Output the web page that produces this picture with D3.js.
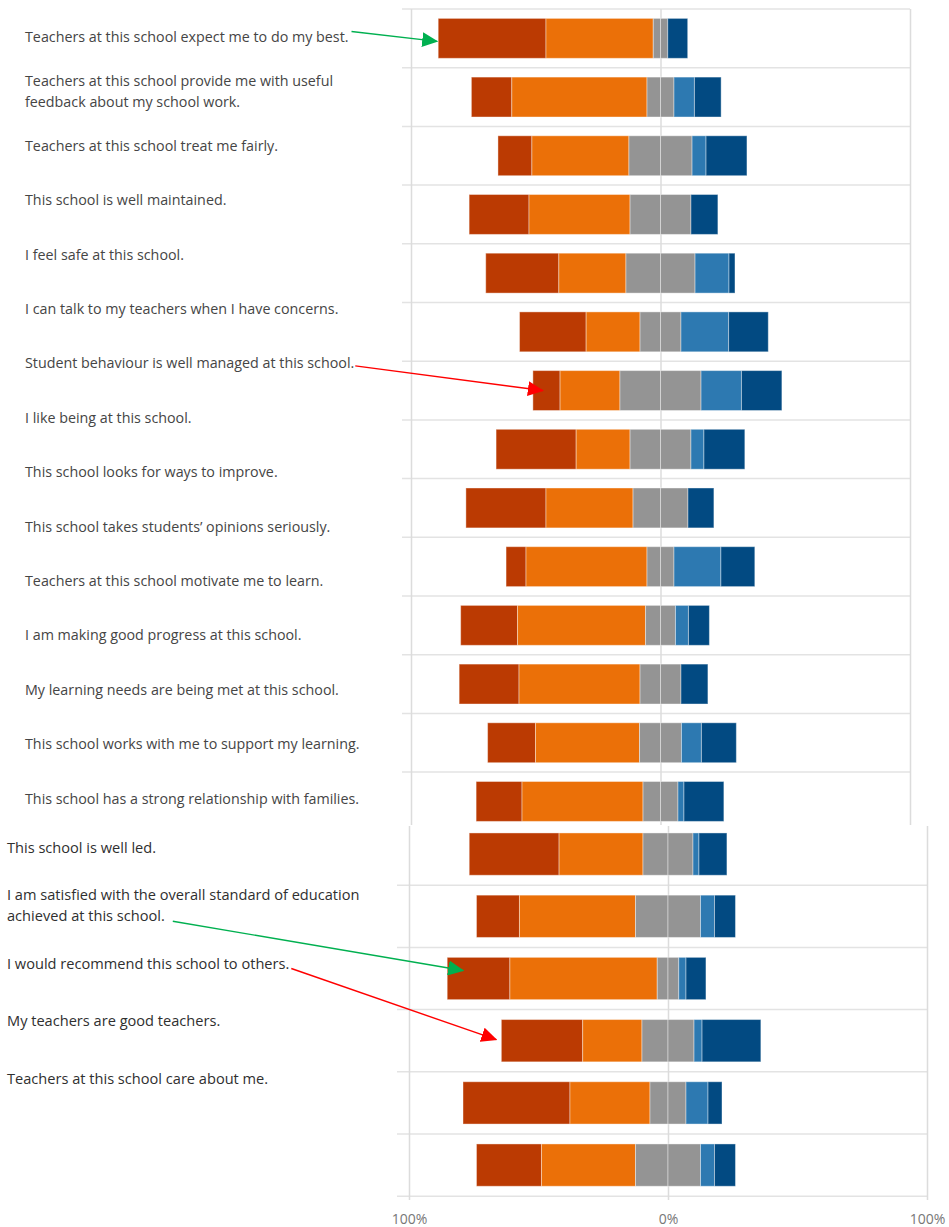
<!DOCTYPE html>
<html>
<head>
<meta charset="utf-8">
<script src="https://cdn.jsdelivr.net/npm/d3@7"></script>
<style>
  html, body { margin: 0; padding: 0; background: #fff; }
  svg { display: block; }
</style>
</head>
<body>
<svg id="chart" width="949" height="1227"></svg>
<script>
// Survey statements (multi-line statements use "\n")
const questions = [
  "Teachers at this school expect me to do my best.",
  "Teachers at this school provide me with useful\nfeedback about my school work.",
  "Teachers at this school treat me fairly.",
  "This school is well maintained.",
  "I feel safe at this school.",
  "I can talk to my teachers when I have concerns.",
  "Student behaviour is well managed at this school.",
  "I like being at this school.",
  "This school looks for ways to improve.",
  "This school takes students\u2019 opinions seriously.",
  "Teachers at this school motivate me to learn.",
  "I am making good progress at this school.",
  "My learning needs are being met at this school.",
  "This school works with me to support my learning.",
  "This school has a strong relationship with families.",
  "This school is well led.",
  "I am satisfied with the overall standard of education\nachieved at this school.",
  "I would recommend this school to others.",
  "My teachers are good teachers.",
  "Teachers at this school care about me."
];

// Response shares (%) per bar, in bar order
const stronglyAgree    = [43.2, 16.2, 13.6, 24.0, 29.3, 26.7, 10.9, 32.1, 32.1,  8.0, 22.8, 24.0, 19.2, 18.4, 34.7, 16.6, 24.2, 31.4, 41.3, 25.1];
const agree            = [43.0, 54.2, 38.9, 40.5, 26.9, 21.6, 24.0, 21.6, 34.9, 48.5, 51.3, 48.5, 41.7, 48.5, 32.4, 44.8, 56.9, 22.9, 30.9, 36.3];
const neutral          = [ 5.8, 10.8, 25.3, 24.4, 27.7, 16.4, 32.5, 24.4, 22.0, 10.8, 12.0, 16.4, 16.8, 14.0, 19.3, 25.1,  8.3, 20.1, 13.9, 25.1];
const disagree         = [ 0.0,  8.2,  5.6,  0.0, 13.6, 19.1, 16.2,  5.2,  0.0, 18.8,  5.2,  0.0,  8.0,  2.4,  2.3,  5.4,  2.8,  3.1,  8.5,  5.4];
const stronglyDisagree = [ 8.0, 10.7, 16.4, 10.8,  2.4, 15.9, 16.2, 16.4, 10.4, 13.6,  8.4, 10.8, 14.0, 16.0, 10.8,  8.1,  7.7, 22.7,  5.4,  8.1];

const tickValues = [-100, 0, 100];
const tickLabels = ["100%", "0%", "100%"];

const colors = {
  stronglyAgree: "#BB3A02",
  agree: "#EB7008",
  neutral: "#949494",
  disagree: "#2D79B1",
  stronglyDisagree: "#024A82"
};

// Annotation arrows: statement index -> its bar
const arrows = [
  { q: 0,  color: "#00B050", sdx: 3, sdy: -5, tdx: -1, tdy: 3 },
  { q: 6,  color: "#FF0000", sdx: 1, sdy: 3,  tdx: 10, tdy: 0 },
  { q: 16, color: "#00B050", sdx: 8, sdy: 6,  tdx: 16, tdy: -8 },
  { q: 17, color: "#FF0000", sdx: 2, sdy: 6,  tdx: -5, tdy: -1 }
];

// Two stacked panels: the first lists bars 0-13, the second bars 14-19
const panels = [
  { bars: d3.range(0, 14), labels: d3.range(0, 15), clipTop: 0, clipBottom: 825,
    x0: 411, x1: 910, rowTop: 9, rowStep: 58.7, gridLeft: 402,
    labelX: 25, labelY0: 36.5, labelY1: 798, labelSize: 14.3, labelColor: "#454545",
    vLineTop: 9, vLineBottom: 825, axis: false },
  { bars: d3.range(14, 20), labels: d3.range(15, 20), clipTop: 826, clipBottom: 1227,
    x0: 409, x1: 927, rowTop: 823, rowStep: 62.2, gridLeft: 397,
    labelX: 7, labelY0: 847, labelY1: 1078, labelSize: 14.6, labelColor: "#2f2f2f",
    vLineTop: 826, vLineBottom: 1200, axis: true }
];

const svg = d3.select("#chart");
const font = "'Segoe UI', 'Open Sans', sans-serif";

const defs = svg.append("defs");
arrows.forEach((a, i) => {
  defs.append("marker")
    .attr("id", "head" + i)
    .attr("markerUnits", "userSpaceOnUse")
    .attr("viewBox", "0 0 16 15")
    .attr("markerWidth", 16).attr("markerHeight", 15)
    .attr("refX", 15).attr("refY", 7.5)
    .attr("orient", "auto")
    .append("path").attr("d", "M0,0 L16,7.5 L0,15 Z").attr("fill", a.color);
});

const barPos = {};     // bar index -> {x, y}
const labelEnd = {};   // statement index -> {x, y}

panels.forEach((p, pi) => {
  defs.append("clipPath").attr("id", "clip" + pi)
    .append("rect").attr("x", 0).attr("y", p.clipTop)
    .attr("width", 949).attr("height", p.clipBottom - p.clipTop);

  const g = svg.append("g").attr("clip-path", `url(#clip${pi})`);
  const x = d3.scaleLinear().domain([-100, 100]).range([p.x0, p.x1]);

  const nRows = p.bars.length + (pi === 0 ? 1 : 0);
  const firstBar = p.bars[0];
  const y = d3.scaleBand()
    .domain(d3.range(0, nRows).map(r => r + firstBar))
    .range([p.rowTop, p.rowTop + p.rowStep * nRows])
    .paddingInner(0.32).paddingOuter(0.16);

  // horizontal row separators
  const bounds = d3.range(0, nRows + 1).map(r => p.rowTop + r * p.rowStep);
  g.append("g").selectAll("line").data(bounds).join("line")
    .attr("x1", p.gridLeft).attr("x2", p.x1)
    .attr("y1", d => d).attr("y2", d => d)
    .attr("stroke", "#e3e3e3").attr("stroke-width", 1.5);

  // vertical gridlines at -100%, 0, 100%
  const grid = d3.axisBottom(x).tickValues(tickValues)
    .tickSize(p.vLineBottom - p.vLineTop).tickFormat("");
  const gg = g.append("g").attr("transform", `translate(0,${p.vLineTop})`).call(grid);
  gg.select(".domain").remove();
  gg.selectAll(".tick line").attr("stroke", "#dcdcdc").attr("stroke-width", 1.5);

  // stacked diverging bars
  const barG = g.append("g");
  p.bars.forEach(i => {
    const half = neutral[i] / 2;
    const segs = [
      { k: "stronglyAgree", a: -(half + agree[i] + stronglyAgree[i]), b: -(half + agree[i]) },
      { k: "agree", a: -(half + agree[i]), b: -half },
      { k: "neutral", a: -half, b: 0 },
      { k: "neutral", a: 0, b: half },
      { k: "disagree", a: half, b: half + disagree[i] },
      { k: "stronglyDisagree", a: half + disagree[i], b: half + disagree[i] + stronglyDisagree[i] }
    ].filter(s => s.b - s.a > 0);
    barG.append("g").selectAll("rect").data(segs).join("rect")
      .attr("x", s => x(s.a))
      .attr("width", s => x(s.b) - x(s.a))
      .attr("y", y(i))
      .attr("height", y.bandwidth())
      .attr("fill", s => colors[s.k])
      .attr("stroke", "#ffffff").attr("stroke-opacity", 0.4).attr("stroke-width", 1);
    barPos[i] = { x: x(segs[0].a), y: y(i) + y.bandwidth() / 2 };
  });

  // statement labels
  const ly = d3.scaleLinear()
    .domain([p.labels[0], p.labels[p.labels.length - 1]])
    .range([p.labelY0, p.labelY1]);
  const lg = svg.append("g");
  p.labels.forEach(qi => {
    const lines = questions[qi].split("\n");
    const lh = 21;
    const cy = ly(qi);
    const t = lg.append("text")
      .attr("x", p.labelX)
      .attr("font-family", font).attr("font-size", p.labelSize)
      .attr("fill", p.labelColor);
    lines.forEach((ln, li) => {
      const yy = cy + (li - (lines.length - 1) / 2) * lh;
      const ts = t.append("tspan").attr("x", p.labelX).attr("y", yy)
        .attr("dominant-baseline", "central").text(ln);
      labelEnd[qi] = { x: p.labelX + ts.node().getComputedTextLength(), y: yy };
    });
  });

  // percentage axis under the second panel
  if (p.axis) {
    const ax = d3.axisBottom(x).tickValues(tickValues)
      .tickFormat((d, k) => tickLabels[k]).tickSize(0).tickPadding(0);
    const axg = svg.append("g").attr("transform", `translate(0,${p.vLineBottom})`).call(ax);
    axg.select(".domain").remove();
    axg.selectAll("text").attr("font-family", font).attr("font-size", 14)
      .attr("fill", "#777").attr("dy", "0").attr("y", 18)
      .attr("dominant-baseline", "central");
  }
});

// annotation arrows from statements to their bars
const arrowG = svg.append("g");
arrows.forEach((a, i) => {
  const s = labelEnd[a.q], b = barPos[a.q];
  arrowG.append("line")
    .attr("x1", s.x + a.sdx).attr("y1", s.y + a.sdy)
    .attr("x2", b.x + a.tdx).attr("y2", b.y + a.tdy)
    .attr("stroke", a.color).attr("stroke-width", 1.4)
    .attr("marker-end", `url(#head${i})`);
});
</script>
</body>
</html>
